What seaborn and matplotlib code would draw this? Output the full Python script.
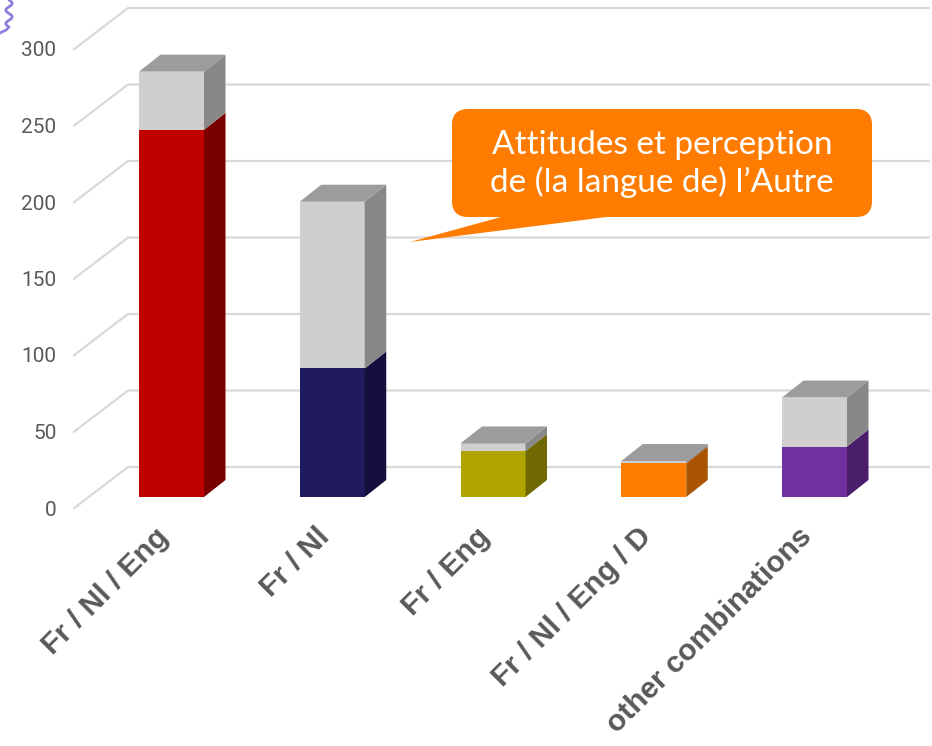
import numpy as np
import pandas as pd
import seaborn as sns
import matplotlib
matplotlib.use("Agg")
import matplotlib.pyplot as plt
import matplotlib.transforms as mtransforms
from matplotlib.patches import Polygon, FancyBboxPatch

# ---- data -------------------------------------------------------------
categories = ["Fr / Nl / Eng", "Fr / Nl", "Fr / Eng", "Fr / Nl / Eng / D", "other combinations"]
base_values = [240, 84, 30, 22, 33]
grey_values = [38, 109, 5, 1.5, 32]
y_ticks = [0, 50, 100, 150, 200, 250, 300]
front_colors = ["#c00000", "#201a5e", "#b0a500", "#ff7c00", "#7030a0"]
side_colors = ["#7a0000", "#150f3d", "#706800", "#aa5300", "#4a1e6b"]
grey_front, grey_side, grey_top = "#d0cece", "#888888", "#9c9c9c"
callout_text = "Attitudes et perception\nde (la langue de) l\u2019Autre"

# ---- layout (pixels, origin top-left) ---------------------------------
W, H = 932, 746
ZERO_PX = 497          # baseline of the bar fronts
PX_PER_UNIT = 1.53
FIRST_CENTER = 171.5
SPACING = 160.75
BAR_W_PX = 65
DEPTH = (21.5, 17)     # bar depth: right, up
WALL = (128, 30)       # back wall: x, rise above bar baseline
FLOOR_FRONT = (73, 12) # front edge of the floor: x, drop below bar baseline
GRID_RIGHT = 930
AX_LEFT, AX_RIGHT, AX_TOP, AX_BOTTOM = 73, 932, 0, 520

def xd(px):
    return (px - FIRST_CENTER) / SPACING

def yd(py):
    return (ZERO_PX - py) / PX_PER_UNIT

sns.set_theme(style="white")
plt.rcParams["font.family"] = ["Roboto", "DejaVu Sans"]

fig = plt.figure(figsize=(W / 100, H / 100), dpi=100)
fig.patch.set_facecolor("white")
ax = fig.add_axes([AX_LEFT / W, (H - AX_BOTTOM) / H,
                   (AX_RIGHT - AX_LEFT) / W, (AX_BOTTOM - AX_TOP) / H])

totals = [b + g for b, g in zip(base_values, grey_values)]
df = pd.DataFrame({"combo": categories, "base": base_values, "total": totals})
bw = BAR_W_PX / SPACING

# front faces: total bar in grey, base segment on top of it
sns.barplot(data=df, x="combo", y="total", color=grey_front, width=bw,
            saturation=1, linewidth=0, ax=ax, zorder=3)
sns.barplot(data=df, x="combo", y="base", hue="combo", palette=front_colors,
            width=bw, saturation=1, linewidth=0, legend=False, ax=ax, zorder=3)

# perspective grid: diagonal floor-to-wall segments plus back wall lines
ddx = DEPTH[0] / SPACING
ddy = DEPTH[1] / PX_PER_UNIT
wall_dy = WALL[1] / PX_PER_UNIT
front_dy = FLOOR_FRONT[1] / PX_PER_UNIT
for v in y_ticks:
    ax.plot([xd(FLOOR_FRONT[0]), xd(WALL[0]), xd(GRID_RIGHT)],
            [v - front_dy, v + wall_dy, v + wall_dy],
            color="#d9d9d9", lw=1.6, zorder=1, solid_capstyle="butt")

# depth: side and top faces of every bar
for i, (b, t) in enumerate(zip(base_values, totals)):
    xl, xr = i - bw / 2, i + bw / 2
    faces = [
        ([(xr, 0), (xr + ddx, ddy), (xr + ddx, b + ddy), (xr, b)], side_colors[i]),
        ([(xr, b), (xr + ddx, b + ddy), (xr + ddx, t + ddy), (xr, t)], grey_side),
        ([(xl, t), (xr, t), (xr + ddx, t + ddy), (xl + ddx, t + ddy)], grey_top),
    ]
    for pts, c in faces:
        ax.add_patch(Polygon(pts, closed=True, facecolor=c, edgecolor="none", zorder=3))

ax.set_xlim(xd(AX_LEFT), xd(AX_RIGHT))
ax.set_ylim(yd(AX_BOTTOM), yd(AX_TOP))
for s in ax.spines.values():
    s.set_visible(False)
ax.set_xlabel("")
ax.set_ylabel("")

# y tick labels sit at the front edge of the floor
ax.set_yticks(y_ticks)
ax.set_yticklabels([str(v) for v in y_ticks])
ax.tick_params(axis="y", length=0, pad=12, labelsize=15, labelcolor="#595959")
y_off = mtransforms.ScaledTranslation(0, -11 / 100, fig.dpi_scale_trans)
for lab in ax.get_yticklabels():
    lab.set_transform(lab.get_transform() + y_off)

ax.set_xticks(range(len(categories)))
ax.set_xticklabels(categories, rotation=45, ha="right", va="top",
                   rotation_mode="anchor", fontweight="bold", fontsize=21.5,
                   color="#595959", family=["Liberation Sans", "DejaVu Sans"])
ax.tick_params(axis="x", length=0, pad=2)
x_off = mtransforms.ScaledTranslation(-17 / 100, 0, fig.dpi_scale_trans)
for lab in ax.get_xticklabels():
    lab.set_transform(lab.get_transform() + x_off)

# callout box (pixel coordinates, top-left origin)
pix = mtransforms.Affine2D().scale(1, -1).translate(0, H)
box = FancyBboxPatch((452, 109), 420, 108, boxstyle="round,pad=0,rounding_size=16",
                     facecolor="#ff7c00", edgecolor="none", transform=pix, zorder=5)
fig.add_artist(box)
fig.add_artist(Polygon([(512, 214), (630, 214), (410, 242)], closed=True,
                       facecolor="#ff7c00", edgecolor="none", transform=pix, zorder=5))
fig.text(662 / W, 1 - 164 / H, callout_text, ha="center", va="center",
         color="white", fontsize=24, family=["Lato", "DejaVu Sans"],
         linespacing=1.25, zorder=6)

# small wavy ornament in the top-left corner
t = np.linspace(0, 1, 60)
wx = list(9 + 3.2 * np.sin(t * 4 * np.pi)) + [6, 2, 0]
wy = list(t * 27) + [30, 32, 33]
fig.add_artist(plt.Line2D(wx, wy, color="#8c80dc", lw=2, transform=pix))

fig.savefig("out.png", dpi=100, facecolor="white")
